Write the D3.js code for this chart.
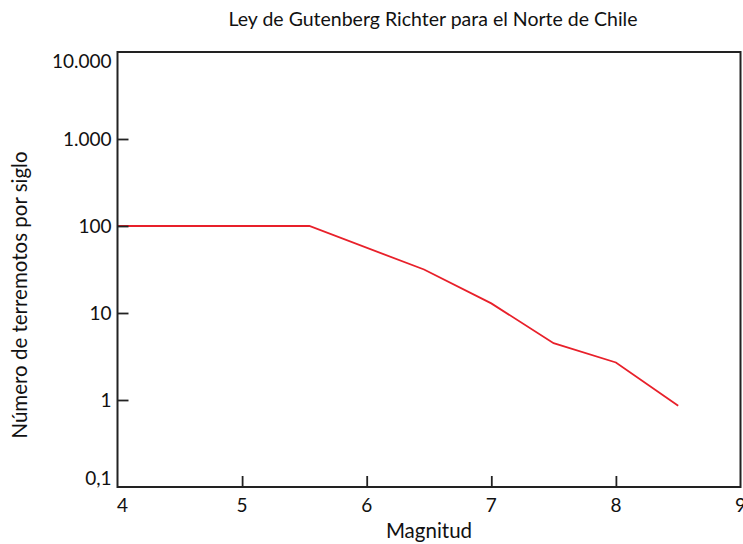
<!DOCTYPE html>
<html>
<head>
<meta charset="utf-8">
<script src="https://cdn.jsdelivr.net/npm/d3@7"></script>
<style>
  body { margin: 0; background: #fff; }
  text { font-family: Lato, "Open Sans", sans-serif; fill: #111; }
</style>
</head>
<body>
<div id="chart"></div>
<script>
const magnitudes = [4.0, 5.54, 6.46, 7.0, 7.5, 8.0, 8.5];
const quakesPerCentury = [100, 100, 31.6, 12.9, 4.5, 2.7, 0.86];
const yTickValues = [0.1, 1, 10, 100, 1000, 10000];
const yTickLabels = ['0,1', '1', '10', '100', '1.000', '10.000'];
const xTickValues = [4, 5, 6, 7, 8, 9];

const width = 743;
const height = 544;
const margin = { top: 52, right: 2.5, bottom: 57, left: 117.5 };

const svg = d3.select('#chart').append('svg')
  .attr('width', width)
  .attr('height', height);

const x = d3.scaleLinear()
  .domain([4, 9])
  .range([margin.left, width - margin.right]);

const y = d3.scaleLog()
  .domain([0.1, 10000])
  .range([height - margin.bottom, margin.top]);

const line = d3.line()
  .x((d, i) => x(magnitudes[i]))
  .y(d => y(d));

svg.append('path')
  .datum(quakesPerCentury)
  .attr('fill', 'none')
  .attr('stroke', '#e8202a')
  .attr('stroke-width', 1.8)
  .attr('d', line);

// frame
svg.append('rect')
  .attr('x', margin.left)
  .attr('y', margin.top)
  .attr('width', x(9) - x(4))
  .attr('height', y(0.1) - y(10000))
  .attr('fill', 'none')
  .attr('stroke', '#222')
  .attr('stroke-width', 2);

// y axis, ticks inward
const yAxis = svg.append('g')
  .attr('transform', `translate(${margin.left},0)`)
  .call(d3.axisRight(y)
    .tickValues(yTickValues)
    .tickSize(11)
    .tickFormat('')
  );
yAxis.select('.domain').remove();
yAxis.selectAll('.tick line')
  .attr('stroke', '#222')
  .attr('stroke-width', 1.8)
  .filter(d => d === 0.1 || d === 10000).remove();

svg.append('g')
  .selectAll('text')
  .data(yTickValues)
  .join('text')
    .attr('x', margin.left - 6)
    .attr('y', d => y(d))
    .attr('dy', (d, i) => i === 0 ? '-0.1em' : i === yTickValues.length - 1 ? '0.85em' : '0.36em')
    .attr('text-anchor', 'end')
    .attr('font-size', 19)
    .text((d, i) => yTickLabels[i]);

// x axis, ticks inward
const xAxis = svg.append('g')
  .attr('transform', `translate(0,${height - margin.bottom})`)
  .call(d3.axisTop(x)
    .tickValues(xTickValues)
    .tickSize(11)
    .tickFormat('')
  );
xAxis.select('.domain').remove();
xAxis.selectAll('.tick line')
  .attr('stroke', '#222')
  .attr('stroke-width', 1.8)
  .filter(d => d === 4 || d === 9).remove();

svg.append('g')
  .selectAll('text')
  .data(xTickValues)
  .join('text')
    .attr('x', d => x(d) + (d === 4 ? 5 : 0))
    .attr('y', height - margin.bottom + 25)
    .attr('text-anchor', 'middle')
    .attr('font-size', 19)
    .text(d => d);

svg.append('text')
  .attr('x', 433)
  .attr('y', 26)
  .attr('text-anchor', 'middle')
  .attr('font-size', 19.5)
  .text('Ley de Gutenberg Richter para el Norte de Chile');

svg.append('text')
  .attr('x', 429)
  .attr('y', 538)
  .attr('text-anchor', 'middle')
  .attr('font-size', 20.5)
  .text('Magnitud');

svg.append('text')
  .attr('transform', 'translate(27,295) rotate(-90)')
  .attr('text-anchor', 'middle')
  .attr('font-size', 20.5)
  .text('Número de terremotos por siglo');
</script>
</body>
</html>
